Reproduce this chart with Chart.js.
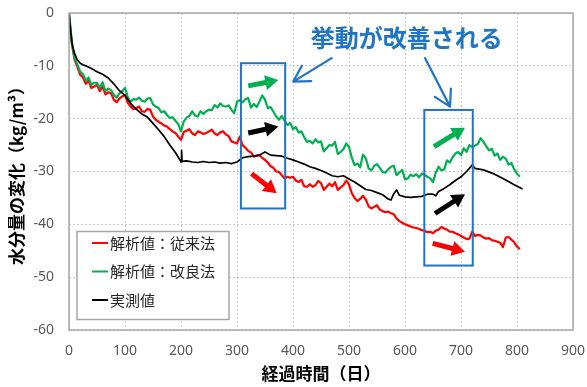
<!DOCTYPE html>
<html>
<head>
<meta charset="utf-8">
<script src="https://cdn.jsdelivr.net/npm/chart.js@4/dist/chart.umd.min.js"></script>
<style>
html,body{margin:0;padding:0;background:#fff}
canvas{display:block}
</style>
</head>
<body>
<canvas id="c" width="587" height="387"></canvas>
<script>
// Elapsed days shared by the two analysis series (5-day steps)
const days = [0,5,10,15,20,25,30,35,40,45,50,55,60,65,70,75,80,85,90,95,
  100,105,110,115,120,125,130,135,140,145,150,155,160,165,170,175,180,185,190,195,
  200,205,210,215,220,225,230,235,240,245,250,255,260,265,270,275,280,285,290,295,
  300,305,310,315,320,325,330,335,340,345,350,355,360,365,370,375,380,385,390,395,
  400,405,410,415,420,425,430,435,440,445,450,455,460,465,470,475,480,485,490,495,
  500,505,510,515,520,525,530,535,540,545,550,555,560,565,570,575,580,585,590,595,
  600,605,610,615,620,625,630,635,640,645,650,655,660,665,670,675,680,685,690,695,
  700,705,710,715,720,725,730,735,740,745,750,755,760,765,770,775,780,785,790,795,
  800,805];

// 解析値:従来法 (kg/m3)
const conventional = [0,-5.8,-8.9,-10.2,-11.7,-12.2,-13.4,-12.8,-14.2,-13.9,
  -13.6,-14.8,-13.9,-15.4,-15.0,-15.2,-16.4,-16.9,-16.2,-15.8,
  -15.5,-17.0,-17.7,-18.2,-18.0,-17.7,-18.6,-18.7,-18.2,-18.3,
  -19.6,-20.2,-20.6,-20.9,-21.3,-21.5,-22.0,-22.4,-22.7,-23.4,
  -24.0,-22.5,-22.3,-22.0,-22.8,-23.1,-22.4,-22.6,-22.9,-22.7,
  -22.4,-22.1,-22.8,-23.1,-22.6,-22.4,-23.0,-23.3,-24.3,-24.5,
  -24.7,-23.4,-25.0,-25.5,-26.1,-26.4,-27.2,-27.0,-26.9,-27.4,
  -27.8,-28.3,-29.0,-29.3,-30.0,-30.1,-30.7,-31.3,-31.0,-31.2,
  -31.0,-31.7,-32.0,-31.6,-32.8,-32.9,-32.4,-32.9,-32.6,-31.8,
  -32.2,-33.5,-32.9,-32.3,-32.8,-32.0,-33.5,-33.0,-32.6,-31.7,
  -32.5,-34.1,-35.0,-35.6,-35.2,-34.6,-35.3,-36.6,-37.0,-36.7,
  -36.4,-37.2,-37.5,-37.7,-37.6,-37.9,-38.1,-38.9,-39.4,-39.7,
  -40.0,-40.2,-40.4,-40.6,-40.7,-40.9,-41.1,-41.2,-41.5,-41.4,
  -41.7,-41.2,-41.0,-40.5,-40.8,-41.0,-41.4,-41.4,-41.7,-41.9,
  -42.2,-42.5,-42.8,-42.7,-41.4,-42.2,-42.0,-42.1,-42.5,-42.7,
  -42.6,-43.0,-43.1,-43.3,-43.5,-44.3,-42.5,-42.4,-42.9,-43.4,
  -44.2,-44.7];

// 解析値:改良法 (kg/m3)
const improved = [0,-5.5,-8.5,-9.8,-11.1,-11.6,-12.8,-12.2,-13.6,-13.2,
  -13.2,-14.2,-13.1,-14.8,-14.3,-14.6,-15.5,-16.0,-15.2,-14.8,
  -14.2,-15.9,-16.8,-16.3,-16.4,-16.0,-16.6,-16.8,-16.2,-16.1,
  -17.3,-17.7,-18.0,-18.8,-18.6,-19.3,-19.9,-19.7,-20.4,-21.0,
  -22.4,-20.5,-19.8,-19.5,-18.6,-19.4,-19.6,-18.6,-19.1,-18.6,
  -18.3,-18.4,-17.4,-17.9,-17.1,-17.6,-17.7,-17.5,-18.3,-19.0,
  -16.8,-16.5,-16.9,-16.3,-16.1,-17.9,-17.2,-17.8,-16.8,-15.6,
  -16.4,-18.0,-17.8,-18.7,-19.6,-20.2,-19.5,-20.4,-21.2,-20.8,
  -22.0,-21.6,-22.6,-22.4,-23.5,-24.4,-24.2,-24.7,-23.9,-24.5,
  -24.3,-26.2,-25.6,-25.0,-25.1,-24.4,-26.7,-26.3,-25.8,-24.7,
  -25.3,-27.4,-28.8,-28.5,-29.2,-26.8,-27.5,-29.4,-29.8,-28.9,
  -28.6,-29.3,-30.1,-30.2,-29.6,-29.1,-28.9,-30.7,-30.2,-29.7,
  -31.5,-31.3,-30.6,-30.9,-30.5,-31.1,-30.4,-30.6,-31.0,-31.3,
  -32.0,-30.2,-29.1,-29.8,-29.6,-27.9,-28.3,-27.3,-26.6,-26.3,
  -26.9,-25.6,-26.3,-25.0,-25.4,-25.1,-24.8,-23.7,-24.4,-25.2,
  -26.0,-25.7,-27.0,-26.6,-27.8,-27.2,-27.6,-28.7,-28.4,-29.6,
  -30.4,-31.0];

// 実測値: measurement days and values (kg/m3)
const measuredDays = [0,2,4,6,10,15,20,25,30,40,50,60,70,80,90,100,110,120,130,140,
  150,160,170,180,190,198,200,201,202,210,220,230,240,250,260,270,280,290,300,310,
  320,330,340,350,360,370,380,390,400,410,420,430,440,450,460,470,480,490,500,510,
  520,530,540,550,560,570,575,580,585,590,600,610,620,630,640,650,655,660,670,680,
  690,700,710,720,725,740,760,780,795,810];
const measured = [0,-2.5,-4.4,-6.1,-7.7,-8.9,-9.5,-9.8,-10.0,-10.5,-11.1,-11.6,-12.3,-13.4,-14.7,-15.6,-17.1,-18.2,-19.1,-19.7,
  -20.9,-22.1,-23.4,-25.0,-26.4,-27.8,-28.2,-26.0,-28.1,-28.0,-28.2,-28.3,-28.1,-28.3,-28.2,-28.4,-28.3,-28.5,-28.2,-27.4,
  -27.2,-27.1,-26.9,-26.3,-26.9,-27.0,-27.1,-27.5,-27.8,-28.2,-28.6,-29.1,-29.4,-29.8,-30.3,-30.8,-31.0,-30.8,-31.4,-32.0,
  -32.7,-33.4,-33.6,-34.0,-34.4,-35.2,-35.4,-34.2,-33.5,-34.5,-34.8,-34.9,-34.8,-34.7,-34.3,-34.3,-34.6,-33.8,-33.2,-32.5,
  -31.7,-31.0,-30.0,-28.8,-29.4,-29.7,-30.5,-31.6,-32.5,-33.3];

const seriesNames = ['解析値：従来法', '解析値：改良法', '実測値'];
const seriesColors = ['#ff0000', '#00b050', '#000000'];
const xTicks = [0,100,200,300,400,500,600,700,800,900];
const yTicks = [0,-10,-20,-30,-40,-50,-60];

const xTitle = '経過時間（日）';
const yTitle = '水分量の変化（kg/m³）';
const calloutText = '挙動が改善される';
const BLUE = '#1f74c4';

// Highlight boxes in data units [dayFrom, dayTo, top, bottom]
const boxes = [[307, 386, -9.5, -37.0], [634.5, 721, -18.35, -47.8]];
// Trend arrows in data units [dayTail, valTail, dayTip, valTip, colour]
const trendArrows = [
  [320, -13.8, 373.8, -12.7, '#00b050'],
  [320, -22.7, 373.8, -21.5, '#000000'],
  [326, -30.4, 370.9, -34.1, '#ff0000'],
  [651.8, -25.3, 707.1, -21.7, '#00b050'],
  [653.6, -37.95, 707.1, -34.3, '#000000'],
  [649.5, -43.6, 707.1, -45.2, '#ff0000']
];
// Callout pointers from the caption to the boxes
const pointers = [[469, -8.54, 400.5, -12.98], [635.7, -8.54, 680.4, -17.72]];
const calloutAt = [603, -4.78];

function fatArrow(ctx, x1, y1, x2, y2, color) {
  const shaft = 5, headLen = 13, headW = 15;
  const ang = Math.atan2(y2 - y1, x2 - x1);
  const len = Math.hypot(x2 - x1, y2 - y1);
  ctx.save();
  ctx.translate(x1, y1);
  ctx.rotate(ang);
  ctx.beginPath();
  ctx.moveTo(0, -shaft / 2);
  ctx.lineTo(len - headLen, -shaft / 2);
  ctx.lineTo(len - headLen, -headW / 2);
  ctx.lineTo(len, 0);
  ctx.lineTo(len - headLen, headW / 2);
  ctx.lineTo(len - headLen, shaft / 2);
  ctx.lineTo(0, shaft / 2);
  ctx.closePath();
  ctx.fillStyle = color;
  ctx.fill();
  ctx.restore();
}

function openArrow(ctx, x1, y1, x2, y2, color) {
  const arm = 18, spread = Math.PI / 6;
  const back = Math.atan2(y1 - y2, x1 - x2);
  ctx.save();
  ctx.strokeStyle = color;
  ctx.lineWidth = 2.2;
  ctx.lineCap = 'round';
  ctx.lineJoin = 'round';
  ctx.beginPath();
  ctx.moveTo(x1, y1);
  ctx.lineTo(x2, y2);
  ctx.moveTo(x2 + arm * Math.cos(back + spread), y2 + arm * Math.sin(back + spread));
  ctx.lineTo(x2, y2);
  ctx.lineTo(x2 + arm * Math.cos(back - spread), y2 + arm * Math.sin(back - spread));
  ctx.stroke();
  ctx.restore();
}

const decorations = {
  id: 'decorations',
  afterDatasetsDraw(chart) {
    const {ctx, chartArea: a, scales: {x, y}} = chart;
    const px = v => x.getPixelForValue(v);
    const py = v => y.getPixelForValue(v);

    // plot frame
    ctx.save();
    ctx.strokeStyle = '#a6a6a6';
    ctx.lineWidth = 1.5;
    ctx.strokeRect(a.left, a.top, a.right - a.left, a.bottom - a.top);
    ctx.restore();

    // highlight boxes
    ctx.save();
    ctx.strokeStyle = BLUE;
    ctx.lineWidth = 2;
    boxes.forEach(([d0, d1, v0, v1]) => {
      ctx.strokeRect(px(d0), py(v0), px(d1) - px(d0), py(v1) - py(v0));
    });
    ctx.restore();

    trendArrows.forEach(([d0, v0, d1, v1, c]) => fatArrow(ctx, px(d0), py(v0), px(d1), py(v1), c));
    pointers.forEach(([d0, v0, d1, v1]) => openArrow(ctx, px(d0), py(v0), px(d1), py(v1), BLUE));

    // caption
    ctx.save();
    ctx.fillStyle = BLUE;
    ctx.font = 'bold 24px "Noto Sans CJK JP"';
    ctx.textAlign = 'center';
    ctx.textBaseline = 'middle';
    ctx.fillText(calloutText, px(calloutAt[0]), py(calloutAt[1]));
    ctx.restore();

    // legend
    const lx = a.left + 8, ly = a.top + 218.5, lw = 152, lh = 88;
    ctx.save();
    ctx.fillStyle = '#ffffff';
    ctx.fillRect(lx, ly, lw, lh);
    ctx.strokeStyle = '#a6a6a6';
    ctx.lineWidth = 1.5;
    ctx.strokeRect(lx, ly, lw, lh);
    ctx.font = '15px "Noto Sans CJK JP"';
    ctx.textBaseline = 'middle';
    ctx.textAlign = 'left';
    const rows = [11.5, 40, 68.5];
    seriesNames.forEach((name, i) => {
      const yy = ly + rows[i];
      ctx.strokeStyle = seriesColors[i];
      ctx.lineWidth = 2;
      ctx.beginPath();
      ctx.moveTo(lx + 15, yy);
      ctx.lineTo(lx + 31, yy);
      ctx.stroke();
      ctx.fillStyle = '#262626';
      ctx.fillText(name, lx + 33, yy);
    });
    ctx.restore();
  }
};

const toXY = (xs, ys) => xs.map((d, i) => ({x: d, y: ys[i]}));

new Chart(document.getElementById('c'), {
  type: 'line',
  data: {
    datasets: [
      {label: seriesNames[0], data: toXY(days, conventional), borderColor: seriesColors[0], borderWidth: 2.2, order: 2},
      {label: seriesNames[1], data: toXY(days, improved), borderColor: seriesColors[1], borderWidth: 2.2, order: 1},
      {label: seriesNames[2], data: toXY(measuredDays, measured), borderColor: seriesColors[2], borderWidth: 1.7, order: 0}
    ]
  },
  options: {
    responsive: false,
    animation: false,
    devicePixelRatio: 1,
    elements: {point: {radius: 0}, line: {tension: 0, borderJoinStyle: 'round'}},
    layout: {padding: {left: 0, right: 14, top: 13, bottom: 0}},
    plugins: {legend: {display: false}, tooltip: {enabled: false}},
    scales: {
      x: {
        type: 'linear', min: 0, max: 900,
        afterBuildTicks: s => { s.ticks = xTicks.map(v => ({value: v})); },
        afterFit: s => { s.height = 57; s.paddingLeft = 0; s.paddingRight = 0; },
        ticks: {color: '#595959', font: {family: '"Noto Sans"', size: 14}, padding: 13, maxRotation: 0, autoSkip: false},
        grid: {color: '#c8c8c8', lineWidth: 1, drawTicks: false},
        border: {display: false, dash: [2, 2]},
        title: {display: true, text: xTitle, color: '#000', font: {family: '"Noto Sans CJK JP"', size: 17, weight: 'bold'}, padding: {top: 0, bottom: 3}}
      },
      y: {
        type: 'linear', min: -60, max: 0,
        afterBuildTicks: s => { s.ticks = yTicks.map(v => ({value: v})); },
        afterFit: s => { s.width = 69; s.paddingTop = 0; s.paddingBottom = 0; },
        ticks: {color: '#595959', font: {family: '"Noto Sans"', size: 14}, padding: 15},
        grid: {color: '#c8c8c8', lineWidth: 1, drawTicks: false},
        border: {display: false, dash: [2, 2]},
        title: {display: true, text: yTitle, color: '#000', font: {family: '"Noto Sans CJK JP"', size: 17, weight: 'bold'}, padding: {top: 6, bottom: 0}}
      }
    }
  },
  plugins: [decorations]
});
</script>
</body>
</html>
